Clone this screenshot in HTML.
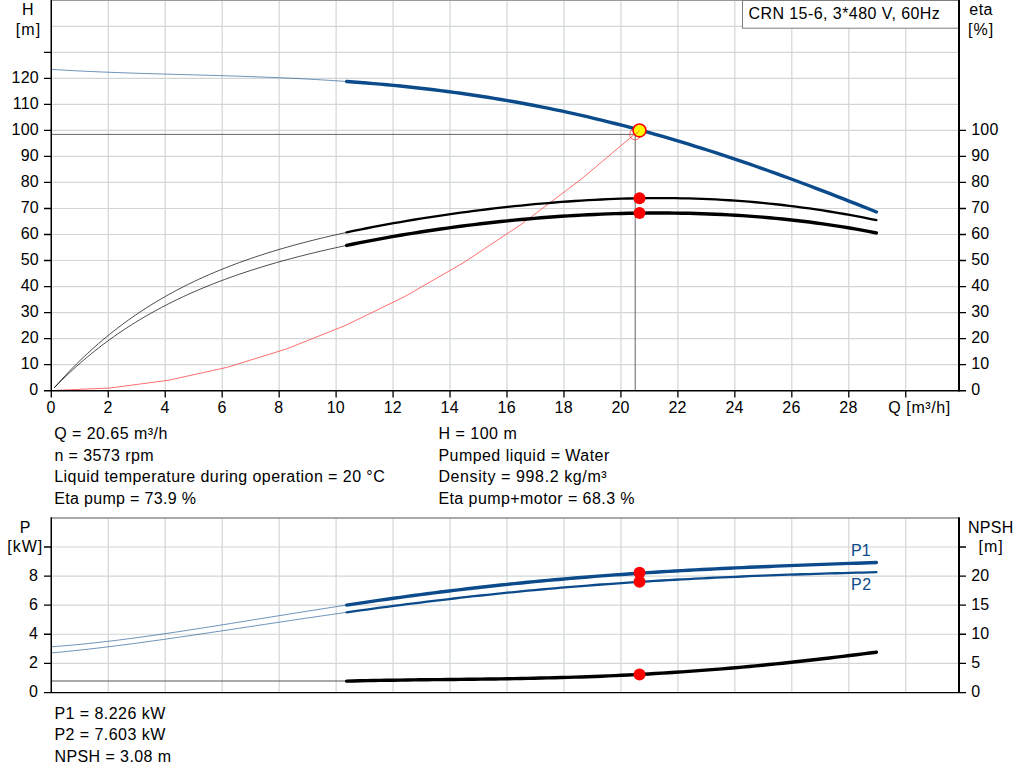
<!DOCTYPE html><html><head><meta charset="utf-8"><title>Pump curve</title><style>html,body{margin:0;padding:0;background:#fff;overflow:hidden}svg{display:block}</style></head><body><svg width="1024" height="781" viewBox="0 0 1024 781" font-family="Liberation Sans, sans-serif" font-size="16" fill="#000">
<rect width="1024" height="781" fill="#fff"/>
<path d="M108.25,0V390.60M165.22,0V390.60M222.18,0V390.60M279.15,0V390.60M336.11,0V390.60M393.07,0V390.60M450.04,0V390.60M507.00,0V390.60M563.97,0V390.60M620.93,0V390.60M677.89,0V390.60M734.86,0V390.60M791.82,0V390.60M848.79,0V390.60M905.75,0V390.60M51.0,364.58H959.0M51.0,338.57H959.0M51.0,312.55H959.0M51.0,286.53H959.0M51.0,260.51H959.0M51.0,234.50H959.0M51.0,208.48H959.0M51.0,182.46H959.0M51.0,156.45H959.0M51.0,130.43H959.0M51.0,104.41H959.0M51.0,78.40H959.0M51.0,52.38H959.0M51.0,26.36H959.0" stroke="#d2d6d8" stroke-width="1.2" fill="none"/>
<path d="M51.0,0.5H959.0" stroke="#9a9a9a" stroke-width="1" fill="none"/>
<path d="M108.25,518V692.40M165.22,518V692.40M222.18,518V692.40M279.15,518V692.40M336.11,518V692.40M393.07,518V692.40M450.04,518V692.40M507.00,518V692.40M563.97,518V692.40M620.93,518V692.40M677.89,518V692.40M734.86,518V692.40M791.82,518V692.40M848.79,518V692.40M905.75,518V692.40M51.0,663.32H959.0M51.0,634.24H959.0M51.0,605.16H959.0M51.0,576.08H959.0M51.0,547.00H959.0" stroke="#d2d6d8" stroke-width="1.2" fill="none"/>
<path d="M51.0,518H959.0" stroke="#8c8c8c" stroke-width="1.6" fill="none"/>
<path d="M51.0,134.4H635.2V390.6" stroke="#666" stroke-width="1" fill="none"/>
<path d="M51.0,681.00H346.65" stroke="#555" stroke-width="1" fill="none"/>
<path d="M51.29,390.60 L110.11,388.00 L168.92,380.18 L227.74,367.16 L286.55,348.93 L345.37,325.49 L404.18,296.85 L463.00,262.99 L521.81,223.92 L580.63,179.65 L639.44,130.17" stroke="#ff3030" stroke-width="0.7" fill="none"/>
<path d="M51.29,69.36 L55.03,69.59 L58.77,69.82 L62.51,70.04 L66.24,70.26 L69.98,70.47 L73.72,70.67 L77.46,70.86 L81.20,71.05 L84.94,71.23 L88.68,71.40 L92.42,71.57 L96.15,71.74 L99.89,71.90 L103.63,72.05 L107.37,72.20 L111.11,72.35 L114.85,72.49 L118.59,72.62 L122.33,72.76 L126.06,72.89 L129.80,73.01 L133.54,73.13 L137.28,73.25 L141.02,73.37 L144.76,73.49 L148.50,73.60 L152.24,73.71 L155.97,73.82 L159.71,73.93 L163.45,74.03 L167.19,74.14 L170.93,74.24 L174.67,74.35 L178.41,74.45 L182.14,74.55 L185.88,74.65 L189.62,74.76 L193.36,74.86 L197.10,74.96 L200.84,75.07 L204.58,75.17 L208.32,75.28 L212.05,75.38 L215.79,75.49 L219.53,75.60 L223.27,75.71 L227.01,75.83 L230.75,75.94 L234.49,76.06 L238.23,76.18 L241.96,76.31 L245.70,76.43 L249.44,76.56 L253.18,76.70 L256.92,76.83 L260.66,76.97 L264.40,77.11 L268.14,77.26 L271.87,77.41 L275.61,77.57 L279.35,77.73 L283.09,77.89 L286.83,78.06 L290.57,78.23 L294.31,78.41 L298.05,78.59 L301.78,78.78 L305.52,78.97 L309.26,79.17 L313.00,79.38 L316.74,79.59 L320.48,79.81 L324.22,80.03 L327.95,80.26 L331.69,80.49 L335.43,80.73 L339.17,80.98 L342.91,81.23 L346.65,81.50" stroke="#0b4a8b" stroke-width="0.6" fill="none"/>
<path d="M54.14,387.90 L57.84,383.71 L61.54,379.62 L65.25,375.62 L68.95,371.71 L72.65,367.90 L76.35,364.17 L80.06,360.53 L83.76,356.97 L87.46,353.50 L91.16,350.10 L94.87,346.79 L98.57,343.55 L102.27,340.39 L105.98,337.30 L109.68,334.28 L113.38,331.33 L117.08,328.45 L120.79,325.64 L124.49,322.89 L128.19,320.20 L131.89,317.58 L135.60,315.02 L139.30,312.52 L143.00,310.07 L146.70,307.68 L150.41,305.35 L154.11,303.07 L157.81,300.84 L161.52,298.66 L165.22,296.53 L168.92,294.45 L172.62,292.42 L176.33,290.43 L180.03,288.49 L183.73,286.59 L187.43,284.73 L191.14,282.92 L194.84,281.14 L198.54,279.40 L202.24,277.70 L205.95,276.04 L209.65,274.42 L213.35,272.83 L217.06,271.27 L220.76,269.75 L224.46,268.26 L228.16,266.80 L231.87,265.37 L235.57,263.97 L239.27,262.60 L242.97,261.25 L246.68,259.94 L250.38,258.65 L254.08,257.39 L257.78,256.15 L261.49,254.93 L265.19,253.74 L268.89,252.58 L272.60,251.43 L276.30,250.31 L280.00,249.21 L283.70,248.13 L287.41,247.07 L291.11,246.03 L294.81,245.00 L298.51,244.00 L302.22,243.01 L305.92,242.05 L309.62,241.09 L313.32,240.16 L317.03,239.24 L320.73,238.33 L324.43,237.45 L328.14,236.57 L331.84,235.71 L335.54,234.87 L339.24,234.03 L342.95,233.22 L346.65,232.41" stroke="#000" stroke-width="0.7" fill="none"/>
<path d="M54.14,387.86 L57.84,384.08 L61.54,380.40 L65.25,376.80 L68.95,373.28 L72.65,369.85 L76.35,366.50 L80.06,363.22 L83.76,360.03 L87.46,356.90 L91.16,353.85 L94.87,350.87 L98.57,347.96 L102.27,345.11 L105.98,342.33 L109.68,339.62 L113.38,336.96 L117.08,334.37 L120.79,331.84 L124.49,329.36 L128.19,326.94 L131.89,324.58 L135.60,322.26 L139.30,320.00 L143.00,317.79 L146.70,315.63 L150.41,313.52 L154.11,311.45 L157.81,309.43 L161.52,307.45 L165.22,305.52 L168.92,303.63 L172.62,301.77 L176.33,299.96 L180.03,298.19 L183.73,296.45 L187.43,294.75 L191.14,293.09 L194.84,291.46 L198.54,289.86 L202.24,288.30 L205.95,286.76 L209.65,285.26 L213.35,283.79 L217.06,282.35 L220.76,280.94 L224.46,279.55 L228.16,278.19 L231.87,276.86 L235.57,275.55 L239.27,274.27 L242.97,273.01 L246.68,271.78 L250.38,270.57 L254.08,269.38 L257.78,268.21 L261.49,267.06 L265.19,265.93 L268.89,264.83 L272.60,263.74 L276.30,262.67 L280.00,261.62 L283.70,260.59 L287.41,259.58 L291.11,258.58 L294.81,257.60 L298.51,256.63 L302.22,255.69 L305.92,254.75 L309.62,253.84 L313.32,252.93 L317.03,252.04 L320.73,251.17 L324.43,250.31 L328.14,249.46 L331.84,248.63 L335.54,247.80 L339.24,247.00 L342.95,246.20 L346.65,245.41" stroke="#000" stroke-width="0.7" fill="none"/>
<path d="M51.29,646.79 L55.03,646.51 L58.77,646.23 L62.51,645.93 L66.24,645.62 L69.98,645.29 L73.72,644.96 L77.46,644.61 L81.20,644.24 L84.94,643.87 L88.68,643.48 L92.42,643.09 L96.15,642.68 L99.89,642.27 L103.63,641.84 L107.37,641.40 L111.11,640.96 L114.85,640.50 L118.59,640.04 L122.33,639.57 L126.06,639.09 L129.80,638.60 L133.54,638.11 L137.28,637.61 L141.02,637.10 L144.76,636.58 L148.50,636.06 L152.24,635.53 L155.97,635.00 L159.71,634.46 L163.45,633.92 L167.19,633.37 L170.93,632.81 L174.67,632.25 L178.41,631.69 L182.14,631.12 L185.88,630.55 L189.62,629.98 L193.36,629.40 L197.10,628.82 L200.84,628.24 L204.58,627.65 L208.32,627.06 L212.05,626.47 L215.79,625.88 L219.53,625.28 L223.27,624.68 L227.01,624.08 L230.75,623.48 L234.49,622.88 L238.23,622.28 L241.96,621.68 L245.70,621.08 L249.44,620.47 L253.18,619.87 L256.92,619.26 L260.66,618.66 L264.40,618.06 L268.14,617.45 L271.87,616.85 L275.61,616.25 L279.35,615.65 L283.09,615.05 L286.83,614.45 L290.57,613.85 L294.31,613.25 L298.05,612.66 L301.78,612.06 L305.52,611.47 L309.26,610.88 L313.00,610.29 L316.74,609.71 L320.48,609.12 L324.22,608.54 L327.95,607.96 L331.69,607.38 L335.43,606.81 L339.17,606.24 L342.91,605.67 L346.65,605.10" stroke="#0b4a8b" stroke-width="0.6" fill="none"/>
<path d="M51.29,652.91 L55.03,652.57 L58.77,652.22 L62.51,651.86 L66.24,651.49 L69.98,651.12 L73.72,650.73 L77.46,650.34 L81.20,649.94 L84.94,649.53 L88.68,649.11 L92.42,648.68 L96.15,648.25 L99.89,647.81 L103.63,647.36 L107.37,646.91 L111.11,646.45 L114.85,645.98 L118.59,645.51 L122.33,645.03 L126.06,644.55 L129.80,644.06 L133.54,643.56 L137.28,643.06 L141.02,642.56 L144.76,642.05 L148.50,641.54 L152.24,641.02 L155.97,640.50 L159.71,639.97 L163.45,639.45 L167.19,638.91 L170.93,638.38 L174.67,637.84 L178.41,637.30 L182.14,636.76 L185.88,636.21 L189.62,635.66 L193.36,635.11 L197.10,634.56 L200.84,634.00 L204.58,633.45 L208.32,632.89 L212.05,632.33 L215.79,631.77 L219.53,631.21 L223.27,630.65 L227.01,630.08 L230.75,629.52 L234.49,628.96 L238.23,628.39 L241.96,627.82 L245.70,627.26 L249.44,626.69 L253.18,626.13 L256.92,625.56 L260.66,625.00 L264.40,624.43 L268.14,623.87 L271.87,623.31 L275.61,622.75 L279.35,622.18 L283.09,621.62 L286.83,621.06 L290.57,620.51 L294.31,619.95 L298.05,619.39 L301.78,618.84 L305.52,618.29 L309.26,617.74 L313.00,617.19 L316.74,616.64 L320.48,616.10 L324.22,615.56 L327.95,615.02 L331.69,614.48 L335.43,613.94 L339.17,613.41 L342.91,612.88 L346.65,612.35" stroke="#0b4a8b" stroke-width="0.6" fill="none"/>
<path d="M346.65,81.50 L353.35,81.98 L360.06,82.49 L366.77,83.02 L373.47,83.58 L380.18,84.16 L386.88,84.77 L393.59,85.40 L400.30,86.06 L407.00,86.75 L413.71,87.46 L420.41,88.21 L427.12,88.98 L433.82,89.78 L440.53,90.61 L447.24,91.47 L453.94,92.36 L460.65,93.28 L467.35,94.23 L474.06,95.21 L480.77,96.23 L487.47,97.27 L494.18,98.35 L500.88,99.46 L507.59,100.61 L514.30,101.79 L521.00,103.00 L527.71,104.24 L534.41,105.52 L541.12,106.83 L547.82,108.17 L554.53,109.55 L561.24,110.96 L567.94,112.41 L574.65,113.89 L581.35,115.41 L588.06,116.96 L594.77,118.54 L601.47,120.15 L608.18,121.80 L614.88,123.49 L621.59,125.21 L628.30,126.96 L635.00,128.74 L641.71,130.56 L648.41,132.41 L655.12,134.29 L661.83,136.21 L668.53,138.16 L675.24,140.14 L681.94,142.15 L688.65,144.19 L695.35,146.26 L702.06,148.37 L708.77,150.50 L715.47,152.66 L722.18,154.86 L728.88,157.08 L735.59,159.33 L742.30,161.60 L749.00,163.91 L755.71,166.24 L762.41,168.60 L769.12,170.98 L775.83,173.39 L782.53,175.82 L789.24,178.27 L795.94,180.75 L802.65,183.25 L809.35,185.77 L816.06,188.31 L822.77,190.87 L829.47,193.45 L836.18,196.05 L842.88,198.67 L849.59,201.30 L856.30,203.95 L863.00,206.61 L869.71,209.28 L876.41,211.97" stroke="#0b4a8b" stroke-width="3.4" stroke-linecap="round" fill="none"/>
<path d="M346.65,232.41 L353.35,230.98 L360.06,229.60 L366.77,228.25 L373.47,226.93 L380.18,225.65 L386.88,224.41 L393.59,223.20 L400.30,222.02 L407.00,220.87 L413.71,219.75 L420.41,218.66 L427.12,217.60 L433.82,216.56 L440.53,215.55 L447.24,214.57 L453.94,213.62 L460.65,212.69 L467.35,211.79 L474.06,210.92 L480.77,210.07 L487.47,209.24 L494.18,208.45 L500.88,207.68 L507.59,206.93 L514.30,206.21 L521.00,205.52 L527.71,204.86 L534.41,204.23 L541.12,203.62 L547.82,203.04 L554.53,202.49 L561.24,201.97 L567.94,201.48 L574.65,201.02 L581.35,200.59 L588.06,200.20 L594.77,199.83 L601.47,199.50 L608.18,199.20 L614.88,198.94 L621.59,198.71 L628.30,198.52 L635.00,198.36 L641.71,198.24 L648.41,198.15 L655.12,198.11 L661.83,198.10 L668.53,198.13 L675.24,198.20 L681.94,198.31 L688.65,198.46 L695.35,198.65 L702.06,198.88 L708.77,199.15 L715.47,199.47 L722.18,199.83 L728.88,200.23 L735.59,200.67 L742.30,201.16 L749.00,201.69 L755.71,202.26 L762.41,202.88 L769.12,203.55 L775.83,204.25 L782.53,205.00 L789.24,205.80 L795.94,206.64 L802.65,207.53 L809.35,208.46 L816.06,209.43 L822.77,210.44 L829.47,211.50 L836.18,212.61 L842.88,213.75 L849.59,214.94 L856.30,216.17 L863.00,217.45 L869.71,218.76 L876.41,220.11" stroke="#000" stroke-width="2.3" stroke-linecap="round" fill="none"/>
<path d="M346.65,245.41 L353.35,244.02 L360.06,242.67 L366.77,241.35 L373.47,240.07 L380.18,238.83 L386.88,237.61 L393.59,236.43 L400.30,235.28 L407.00,234.16 L413.71,233.07 L420.41,232.02 L427.12,230.99 L433.82,229.99 L440.53,229.02 L447.24,228.07 L453.94,227.16 L460.65,226.27 L467.35,225.42 L474.06,224.58 L480.77,223.78 L487.47,223.01 L494.18,222.26 L500.88,221.54 L507.59,220.85 L514.30,220.18 L521.00,219.55 L527.71,218.94 L534.41,218.36 L541.12,217.81 L547.82,217.28 L554.53,216.79 L561.24,216.32 L567.94,215.89 L574.65,215.48 L581.35,215.10 L588.06,214.76 L594.77,214.44 L601.47,214.15 L608.18,213.90 L614.88,213.67 L621.59,213.48 L628.30,213.31 L635.00,213.18 L641.71,213.08 L648.41,213.02 L655.12,212.98 L661.83,212.98 L668.53,213.02 L675.24,213.08 L681.94,213.18 L688.65,213.32 L695.35,213.48 L702.06,213.69 L708.77,213.93 L715.47,214.20 L722.18,214.51 L728.88,214.86 L735.59,215.24 L742.30,215.66 L749.00,216.12 L755.71,216.62 L762.41,217.16 L769.12,217.74 L775.83,218.35 L782.53,219.01 L789.24,219.71 L795.94,220.45 L802.65,221.24 L809.35,222.06 L816.06,222.94 L822.77,223.86 L829.47,224.82 L836.18,225.84 L842.88,226.90 L849.59,228.01 L856.30,229.18 L863.00,230.40 L869.71,231.67 L876.41,233.00" stroke="#000" stroke-width="3.4" stroke-linecap="round" fill="none"/>
<path d="M346.65,605.10 L353.35,604.10 L360.06,603.10 L366.77,602.11 L373.47,601.14 L380.18,600.17 L386.88,599.22 L393.59,598.28 L400.30,597.35 L407.00,596.43 L413.71,595.53 L420.41,594.64 L427.12,593.76 L433.82,592.90 L440.53,592.05 L447.24,591.21 L453.94,590.39 L460.65,589.58 L467.35,588.79 L474.06,588.01 L480.77,587.25 L487.47,586.50 L494.18,585.76 L500.88,585.04 L507.59,584.33 L514.30,583.64 L521.00,582.96 L527.71,582.30 L534.41,581.65 L541.12,581.01 L547.82,580.39 L554.53,579.79 L561.24,579.19 L567.94,578.61 L574.65,578.04 L581.35,577.49 L588.06,576.95 L594.77,576.42 L601.47,575.91 L608.18,575.41 L614.88,574.92 L621.59,574.44 L628.30,573.97 L635.00,573.52 L641.71,573.08 L648.41,572.64 L655.12,572.22 L661.83,571.81 L668.53,571.41 L675.24,571.02 L681.94,570.64 L688.65,570.27 L695.35,569.91 L702.06,569.55 L708.77,569.21 L715.47,568.87 L722.18,568.54 L728.88,568.22 L735.59,567.91 L742.30,567.60 L749.00,567.30 L755.71,567.01 L762.41,566.72 L769.12,566.44 L775.83,566.16 L782.53,565.89 L789.24,565.63 L795.94,565.36 L802.65,565.11 L809.35,564.86 L816.06,564.61 L822.77,564.36 L829.47,564.12 L836.18,563.88 L842.88,563.65 L849.59,563.42 L856.30,563.19 L863.00,562.96 L869.71,562.74 L876.41,562.51" stroke="#0b4a8b" stroke-width="3.4" stroke-linecap="round" fill="none"/>
<path d="M346.65,612.35 L353.35,611.41 L360.06,610.47 L366.77,609.55 L373.47,608.63 L380.18,607.73 L386.88,606.83 L393.59,605.95 L400.30,605.08 L407.00,604.21 L413.71,603.36 L420.41,602.52 L427.12,601.69 L433.82,600.87 L440.53,600.07 L447.24,599.27 L453.94,598.49 L460.65,597.72 L467.35,596.97 L474.06,596.22 L480.77,595.49 L487.47,594.78 L494.18,594.07 L500.88,593.38 L507.59,592.70 L514.30,592.03 L521.00,591.38 L527.71,590.73 L534.41,590.11 L541.12,589.49 L547.82,588.89 L554.53,588.30 L561.24,587.72 L567.94,587.16 L574.65,586.60 L581.35,586.06 L588.06,585.54 L594.77,585.02 L601.47,584.52 L608.18,584.03 L614.88,583.55 L621.59,583.08 L628.30,582.63 L635.00,582.18 L641.71,581.75 L648.41,581.33 L655.12,580.92 L661.83,580.52 L668.53,580.13 L675.24,579.75 L681.94,579.38 L688.65,579.03 L695.35,578.68 L702.06,578.34 L708.77,578.01 L715.47,577.69 L722.18,577.38 L728.88,577.08 L735.59,576.78 L742.30,576.50 L749.00,576.22 L755.71,575.95 L762.41,575.69 L769.12,575.44 L775.83,575.19 L782.53,574.95 L789.24,574.72 L795.94,574.49 L802.65,574.27 L809.35,574.06 L816.06,573.85 L822.77,573.65 L829.47,573.45 L836.18,573.26 L842.88,573.08 L849.59,572.90 L856.30,572.72 L863.00,572.55 L869.71,572.38 L876.41,572.22" stroke="#0b4a8b" stroke-width="2.3" stroke-linecap="round" fill="none"/>
<path d="M346.65,681.11 L353.35,680.94 L360.06,680.78 L366.77,680.64 L373.47,680.51 L380.18,680.39 L386.88,680.28 L393.59,680.18 L400.30,680.08 L407.00,679.99 L413.71,679.90 L420.41,679.82 L427.12,679.75 L433.82,679.67 L440.53,679.60 L447.24,679.52 L453.94,679.45 L460.65,679.37 L467.35,679.29 L474.06,679.21 L480.77,679.13 L487.47,679.04 L494.18,678.94 L500.88,678.84 L507.59,678.73 L514.30,678.62 L521.00,678.50 L527.71,678.36 L534.41,678.22 L541.12,678.07 L547.82,677.91 L554.53,677.74 L561.24,677.55 L567.94,677.36 L574.65,677.15 L581.35,676.93 L588.06,676.70 L594.77,676.45 L601.47,676.19 L608.18,675.91 L614.88,675.62 L621.59,675.32 L628.30,675.00 L635.00,674.66 L641.71,674.31 L648.41,673.94 L655.12,673.56 L661.83,673.16 L668.53,672.75 L675.24,672.32 L681.94,671.87 L688.65,671.40 L695.35,670.92 L702.06,670.42 L708.77,669.91 L715.47,669.38 L722.18,668.83 L728.88,668.27 L735.59,667.69 L742.30,667.09 L749.00,666.48 L755.71,665.85 L762.41,665.21 L769.12,664.55 L775.83,663.88 L782.53,663.19 L789.24,662.48 L795.94,661.77 L802.65,661.03 L809.35,660.29 L816.06,659.53 L822.77,658.76 L829.47,657.98 L836.18,657.18 L842.88,656.37 L849.59,655.56 L856.30,654.73 L863.00,653.89 L869.71,653.04 L876.41,652.19" stroke="#000" stroke-width="3.4" stroke-linecap="round" fill="none"/>
<rect x="742.5" y="0.5" width="216.5" height="27.7" fill="#fff" stroke="#7f7f7f" stroke-width="1"/>
<text x="748.40" y="19.2" textLength="191.46" lengthAdjust="spacing">CRN 15-6, 3*480 V, 60Hz</text>
<path d="M51.25,0V391.6" stroke="#000" stroke-width="1.5" fill="none"/>
<path d="M959.0,0V391.6" stroke="#000" stroke-width="2" fill="none"/>
<path d="M44,390.8H966" stroke="#000" stroke-width="1.6" fill="none"/>
<path d="M44,364.58H51.0M44,338.57H51.0M44,312.55H51.0M44,286.53H51.0M44,260.51H51.0M44,234.50H51.0M44,208.48H51.0M44,182.46H51.0M44,156.45H51.0M44,130.43H51.0M44,104.41H51.0M44,78.40H51.0M44,52.38H51.0M959.0,364.58H966M959.0,338.57H966M959.0,312.55H966M959.0,286.53H966M959.0,260.51H966M959.0,234.50H966M959.0,208.48H966M959.0,182.46H966M959.0,156.45H966M959.0,130.43H966M51.29,390.6V397.6M108.25,390.6V397.6M165.22,390.6V397.6M222.18,390.6V397.6M279.15,390.6V397.6M336.11,390.6V397.6M393.07,390.6V397.6M450.04,390.6V397.6M507.00,390.6V397.6M563.97,390.6V397.6M620.93,390.6V397.6M677.89,390.6V397.6M734.86,390.6V397.6M791.82,390.6V397.6M848.79,390.6V397.6M905.75,390.6V397.6" stroke="#000" stroke-width="1.3" fill="none"/>
<path d="M51.25,517.3V693.1" stroke="#000" stroke-width="1.5" fill="none"/>
<path d="M959.0,517.3V693.1" stroke="#000" stroke-width="2" fill="none"/>
<path d="M44,692.55H966" stroke="#000" stroke-width="1.2" fill="none"/>
<path d="M44,663.32H51.0M44,634.24H51.0M44,605.16H51.0M44,576.08H51.0M44,547.00H51.0M959.0,663.32H966M959.0,634.24H966M959.0,605.16H966M959.0,576.08H966M959.0,547.00H966" stroke="#000" stroke-width="1.3" fill="none"/>
<text x="38.2" y="395.2" text-anchor="end">0</text>
<text x="39.0" y="369.2" text-anchor="end" letter-spacing="0.25">10</text>
<text x="39.0" y="343.2" text-anchor="end" letter-spacing="0.25">20</text>
<text x="39.0" y="317.1" text-anchor="end" letter-spacing="0.25">30</text>
<text x="39.0" y="291.1" text-anchor="end" letter-spacing="0.25">40</text>
<text x="39.0" y="265.1" text-anchor="end" letter-spacing="0.25">50</text>
<text x="39.0" y="239.1" text-anchor="end" letter-spacing="0.25">60</text>
<text x="39.0" y="213.1" text-anchor="end" letter-spacing="0.25">70</text>
<text x="39.0" y="187.1" text-anchor="end" letter-spacing="0.25">80</text>
<text x="39.0" y="161.0" text-anchor="end" letter-spacing="0.25">90</text>
<text x="39.0" y="135.0" text-anchor="end" letter-spacing="0.25">100</text>
<text x="39.0" y="109.0" text-anchor="end" letter-spacing="0.25">110</text>
<text x="39.0" y="83.0" text-anchor="end" letter-spacing="0.25">120</text>
<text x="971.2" y="395.2">0</text>
<text x="971.2" y="369.2" letter-spacing="0.25">10</text>
<text x="971.2" y="343.2" letter-spacing="0.25">20</text>
<text x="971.2" y="317.1" letter-spacing="0.25">30</text>
<text x="971.2" y="291.1" letter-spacing="0.25">40</text>
<text x="971.2" y="265.1" letter-spacing="0.25">50</text>
<text x="971.2" y="239.1" letter-spacing="0.25">60</text>
<text x="971.2" y="213.1" letter-spacing="0.25">70</text>
<text x="971.2" y="187.1" letter-spacing="0.25">80</text>
<text x="971.2" y="161.0" letter-spacing="0.25">90</text>
<text x="971.2" y="135.0" letter-spacing="0.25">100</text>
<text x="51.0" y="413.2" text-anchor="middle">0</text>
<text x="108.0" y="413.2" text-anchor="middle">2</text>
<text x="164.9" y="413.2" text-anchor="middle">4</text>
<text x="221.9" y="413.2" text-anchor="middle">6</text>
<text x="278.8" y="413.2" text-anchor="middle">8</text>
<text x="335.8" y="413.2" text-anchor="middle" letter-spacing="0.25">10</text>
<text x="392.8" y="413.2" text-anchor="middle" letter-spacing="0.25">12</text>
<text x="449.7" y="413.2" text-anchor="middle" letter-spacing="0.25">14</text>
<text x="506.7" y="413.2" text-anchor="middle" letter-spacing="0.25">16</text>
<text x="563.7" y="413.2" text-anchor="middle" letter-spacing="0.25">18</text>
<text x="620.6" y="413.2" text-anchor="middle" letter-spacing="0.25">20</text>
<text x="677.6" y="413.2" text-anchor="middle" letter-spacing="0.25">22</text>
<text x="734.6" y="413.2" text-anchor="middle" letter-spacing="0.25">24</text>
<text x="791.5" y="413.2" text-anchor="middle" letter-spacing="0.25">26</text>
<text x="848.5" y="413.2" text-anchor="middle" letter-spacing="0.25">28</text>
<text x="888.20" y="413.2" textLength="62.12" lengthAdjust="spacing">Q [m³/h]</text>
<text x="38.0" y="697.2" text-anchor="end">0</text>
<text x="38.0" y="668.1" text-anchor="end">2</text>
<text x="38.0" y="639.0" text-anchor="end">4</text>
<text x="38.0" y="610.0" text-anchor="end">6</text>
<text x="38.0" y="580.9" text-anchor="end">8</text>
<text x="971.2" y="697.2">0</text>
<text x="971.2" y="668.1">5</text>
<text x="971.2" y="639.0" letter-spacing="0.25">10</text>
<text x="971.2" y="610.0" letter-spacing="0.25">15</text>
<text x="971.2" y="580.9" letter-spacing="0.25">20</text>
<text x="27.8" y="14.6" text-anchor="middle">H</text>
<text x="15.80" y="34.5" textLength="24.47" lengthAdjust="spacing">[m]</text>
<text x="969.3" y="14.6" letter-spacing="0.45">eta</text>
<text x="968.00" y="34.5" textLength="25.22" lengthAdjust="spacing">[%]</text>
<text x="25.2" y="532.8" text-anchor="middle">P</text>
<text x="7.20" y="551.8" textLength="35.07" lengthAdjust="spacing">[kW]</text>
<text x="968.00" y="532.8" textLength="45.39" lengthAdjust="spacing">NPSH</text>
<text x="978.60" y="551.8" textLength="24.17" lengthAdjust="spacing">[m]</text>
<text x="851" y="556" fill="#0b4a8b">P1</text><text x="851" y="590" fill="#0b4a8b" letter-spacing="0.5">P2</text>
<text x="54.20" y="439" textLength="113.20" lengthAdjust="spacing">Q = 20.65 m³/h</text>
<text x="54.40" y="461" textLength="99.21" lengthAdjust="spacing">n = 3573 rpm</text>
<text x="54.20" y="482" textLength="330.57" lengthAdjust="spacing">Liquid temperature during operation = 20 °C</text>
<text x="54.20" y="504" textLength="141.84" lengthAdjust="spacing">Eta pump = 73.9 %</text>
<text x="438.40" y="439" textLength="78.43" lengthAdjust="spacing">H = 100 m</text>
<text x="438.40" y="461" textLength="170.84" lengthAdjust="spacing">Pumped liquid = Water</text>
<text x="438.40" y="482" textLength="168.29" lengthAdjust="spacing">Density = 998.2 kg/m³</text>
<text x="438.40" y="504" textLength="196.19" lengthAdjust="spacing">Eta pump+motor = 68.3 %</text>
<text x="54.40" y="719" textLength="110.84" lengthAdjust="spacing">P1 = 8.226 kW</text>
<text x="54.40" y="740" textLength="110.84" lengthAdjust="spacing">P2 = 7.603 kW</text>
<text x="54.40" y="762" textLength="116.70" lengthAdjust="spacing">NPSH = 3.08 m</text>
<circle cx="635.2" cy="134.4" r="5.5" fill="none" stroke="#ff4040" stroke-width="0.8"/>
<circle cx="639.50" cy="130.43" r="6.4" fill="#ffff00" stroke="#ff0000" stroke-width="1.6"/>
<path d="M635.2,134.4L639.50,130.43" stroke="#ff3030" stroke-width="0.7" fill="none"/>
<circle cx="639.50" cy="198.33" r="6.0" fill="#ff0000"/>
<circle cx="639.50" cy="212.90" r="6.0" fill="#ff0000"/>
<circle cx="639.50" cy="572.79" r="6.0" fill="#ff0000"/>
<circle cx="639.50" cy="581.85" r="6.0" fill="#ff0000"/>
<circle cx="639.50" cy="674.49" r="6.0" fill="#ff0000"/>
</svg></body></html>
